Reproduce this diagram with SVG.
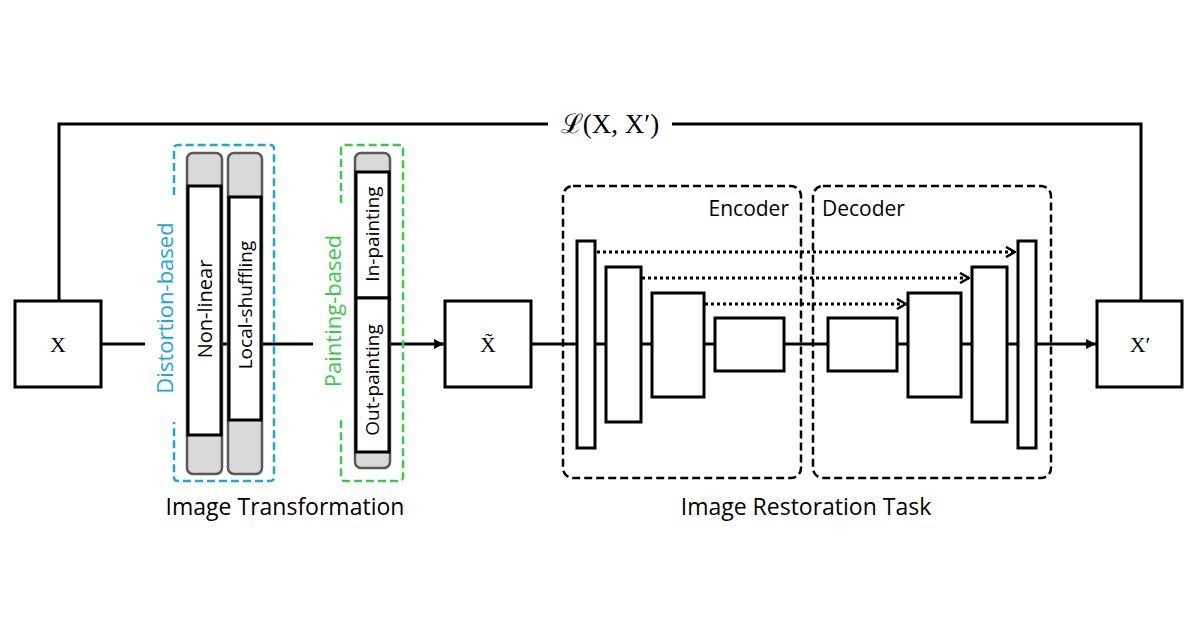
<svg xmlns="http://www.w3.org/2000/svg" width="1200" height="630" viewBox="0 0 1200 630">
<style>
.box{fill:#fff;stroke:#000;stroke-width:3}
.blk{fill:#fff;stroke:#000;stroke-width:3}
.bar{fill:#d9d9d9;stroke:#595959;stroke-width:2.5}
.ln{fill:none;stroke:#000;stroke-width:3}
.dot{fill:none;stroke:#000;stroke-width:3;stroke-dasharray:3 3}
.dash{fill:none;stroke:#000;stroke-width:2.5;stroke-dasharray:8 4}
.t{font-family:"Open Sans","Noto Sans",sans-serif;fill:#000}
.m{font-family:"Liberation Serif","DejaVu Serif",serif;fill:#000}
</style>
<defs>
<marker id="arr" viewBox="0 0 10 10" refX="10" refY="5" markerWidth="10" markerHeight="10" markerUnits="userSpaceOnUse" orient="auto">
<path d="M0,0 L10,5 L0,10 Z" fill="#000"/>
</marker>
<marker id="chev" viewBox="0 0 12 12" refX="11" refY="6" markerWidth="12" markerHeight="12" markerUnits="userSpaceOnUse" orient="auto">
<path d="M2,1 L11,6 L2,11" fill="none" stroke="#000" stroke-width="2.5"/>
</marker>
</defs>
<rect width="1200" height="630" fill="#fff"/>
<g id="connectors">
<path class="ln" d="M59,301 V124 H548"/>
<path class="ln" d="M672,124 H1141 V301"/>
<path class="ln" d="M101,344 H145"/>
<path class="ln" d="M221,344 H229"/>
<path class="ln" d="M261,344 H313"/>
<path class="ln" d="M390,344 H444" marker-end="url(#arr)"/>
<path class="ln" d="M531,344 H1096" marker-end="url(#arr)"/>
<path class="dot" d="M597,252 H1015" marker-end="url(#chev)"/>
<path class="dot" d="M642,278 H969" marker-end="url(#chev)"/>
<path class="dot" d="M705,304 H906" marker-end="url(#chev)"/>
</g>
<g id="loss"><text class="m" x="610" y="133" font-size="27" text-anchor="middle">ℒ(X, X′)</text></g>
<g id="x"><rect class="box" x="15" y="301" width="86" height="86"/><text class="m" x="58" y="352" font-size="22" text-anchor="middle">X</text></g>
<g id="xtilde"><rect class="box" x="445" y="301" width="86" height="86"/><text class="m" x="488" y="352" font-size="22" text-anchor="middle">X̃</text></g>
<g id="xprime"><rect class="box" x="1097" y="301" width="85" height="86"/><text class="m" x="1140" y="352" font-size="22" text-anchor="middle">X′</text></g>
<g id="distortion">
<path d="M174,195 V149 Q174,145 178,145 H270 Q274,145 274,149 V477 Q274,481 270,481 H178 Q174,481 174,477 V422" fill="none" stroke="#1ba6dd" stroke-width="2.5" stroke-dasharray="8 4"/>
<text class="t" transform="translate(173,308) rotate(-90)" font-size="22" style="fill:#1ba6dd" text-anchor="middle">Distortion-based</text>
</g>
<g id="nonlinear">
<rect class="bar" x="187" y="153" width="35" height="321" rx="6"/>
<rect class="blk" x="188" y="186" width="33" height="249"/>
<text class="t" transform="translate(212,309) rotate(-90)" font-size="20" text-anchor="middle">Non-linear</text>
</g>
<g id="localshuffling">
<rect class="bar" x="228" y="153" width="34" height="321" rx="6"/>
<rect class="blk" x="229" y="197" width="32" height="223"/>
<text class="t" transform="translate(252,305) rotate(-90)" font-size="19" text-anchor="middle">Local-shuffling</text>
</g>
<g id="painting">
<path d="M341,203 V149 Q341,145 345,145 H399 Q403,145 403,149 V477 Q403,481 399,481 H345 Q341,481 341,477 V417" fill="none" stroke="#3cc84c" stroke-width="2.5" stroke-dasharray="8 4"/>
<text class="t" transform="translate(341,311) rotate(-90)" font-size="22" style="fill:#3cc84c" text-anchor="middle">Painting-based</text>
</g>
<g id="inpainting">
<rect class="bar" x="355" y="153" width="35" height="315" rx="6"/>
<rect class="blk" x="356" y="172" width="33" height="126"/>
<text class="t" transform="translate(379,234) rotate(-90)" font-size="19" text-anchor="middle">In-painting</text>
</g>
<g id="outpainting">
<rect class="blk" x="356" y="298" width="33" height="154"/>
<text class="t" transform="translate(379,380) rotate(-90)" font-size="19" text-anchor="middle">Out-painting</text>
</g>
<g id="encoder">
<rect class="dash" x="563" y="186" width="238" height="292" rx="10"/>
<text class="t" x="789" y="216" font-size="21" text-anchor="end">Encoder</text>
</g>
<g id="decoder">
<rect class="dash" x="813" y="186" width="238" height="292" rx="10"/>
<text class="t" x="822" y="216" font-size="21">Decoder</text>
</g>
<g id="e1"><rect class="blk" x="577" y="241" width="18" height="207"/></g>
<g id="e2"><rect class="blk" x="606" y="267" width="35" height="155"/></g>
<g id="e3"><rect class="blk" x="652" y="293" width="52" height="104"/></g>
<g id="e4"><rect class="blk" x="715" y="318" width="69" height="53"/></g>
<g id="d1"><rect class="blk" x="828" y="318" width="69" height="53"/></g>
<g id="d2"><rect class="blk" x="908" y="293" width="53" height="104"/></g>
<g id="d3"><rect class="blk" x="972" y="267" width="35" height="155"/></g>
<g id="d4"><rect class="blk" x="1018" y="241" width="18" height="207"/></g>
<g id="labels">
<text class="t" x="285" y="515" font-size="23" text-anchor="middle">Image Transformation</text>
<text class="t" x="806" y="515" font-size="23" text-anchor="middle">Image Restoration Task</text>
</g>
</svg>
